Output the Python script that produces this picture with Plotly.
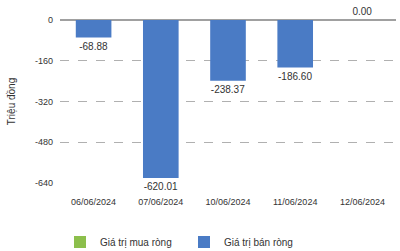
import plotly.graph_objects as go

dates = ["06/06/2024", "07/06/2024", "10/06/2024", "11/06/2024", "12/06/2024"]
buy_values = [0, 0, 0, 0, 0]
sell_values = [-68.88, -620.01, -238.37, -186.60, 0.00]
y_ticks = [0, -160, -320, -480, -640]

GREEN = "#8cbf4c"
BLUE = "#4a7bc5"
FONT = "Liberation Sans, Arial, sans-serif"

fig = go.Figure()
fig.add_trace(go.Bar(
    x=dates, y=buy_values, name="Giá trị mua ròng",
    marker=dict(color=GREEN, line=dict(width=0)),
    hoverinfo="skip",
))
fig.add_trace(go.Bar(
    x=dates, y=sell_values, name="Giá trị bán ròng",
    marker=dict(color=BLUE, line=dict(width=0)),
    text=[f"{v:.2f}" for v in sell_values],
    textposition="outside",
    textfont=dict(family=FONT, size=10, color="#333333"),
    cliponaxis=False,
))

fig.update_layout(
    width=400, height=251,
    margin=dict(l=60, r=4, t=20, b=68, autoexpand=False),
    barmode="overlay",
    bargap=0.47,
    plot_bgcolor="white",
    paper_bgcolor="white",
    font=dict(family=FONT, size=9, color="#333333"),
    showlegend=True,
    legend=dict(
        orientation="h", x=0.0, y=-0.362, xanchor="left", yanchor="middle",
        font=dict(family=FONT, size=10, color="#333333"),
        entrywidth=79, itemwidth=30,
        traceorder="normal",
    ),
)
fig.update_xaxes(
    showgrid=False, showline=False, ticks="",
    ticklabelstandoff=12,
    tickfont=dict(family=FONT, size=9, color="#333333"),
)
fig.update_yaxes(
    range=[-640, 0],
    tickvals=y_ticks,
    ticktext=[str(v) for v in y_ticks],
    showgrid=True, gridcolor="#b0b0b0", griddash="dash", gridwidth=1,
    zeroline=True, zerolinecolor="#a0a0a0", zerolinewidth=1.5,
    showline=False, ticks="",
    ticklabelstandoff=6,
    tickfont=dict(family=FONT, size=9, color="#333333"),
    title=dict(text="Triệu đồng", font=dict(family=FONT, size=10, color="#333333"), standoff=17),
)

fig.write_html("out.html", config={"displayModeBar": False},
               post_script="document.body.style.margin='0';")
